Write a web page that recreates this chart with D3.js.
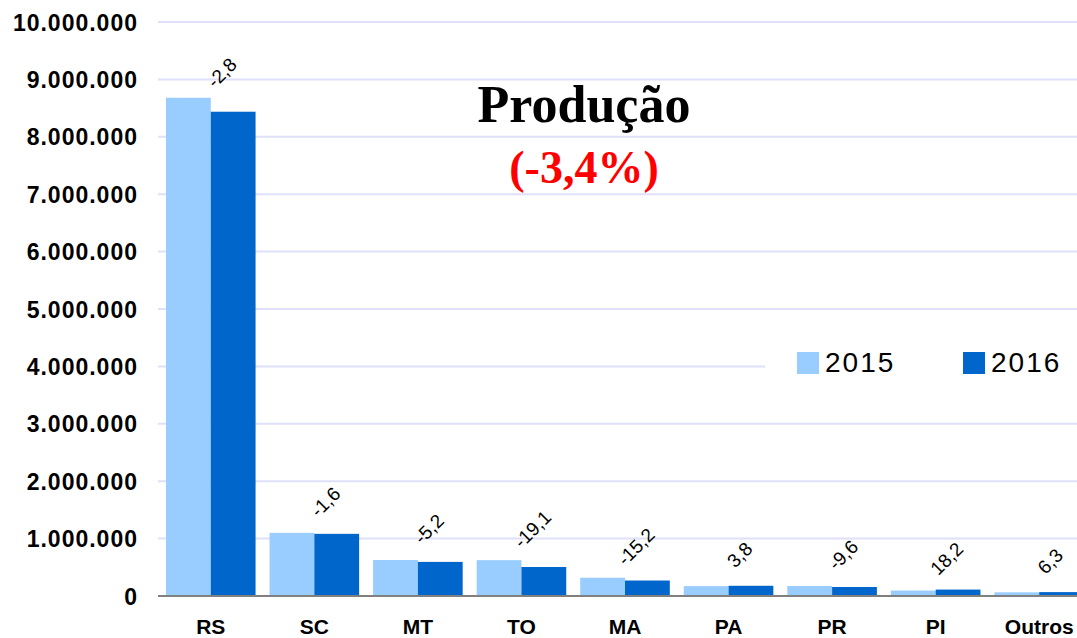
<!DOCTYPE html>
<html><head><meta charset="utf-8">
<script src="https://cdn.jsdelivr.net/npm/d3@7"></script>
<style>body{margin:0;background:#fff}svg{display:block}</style>
</head><body><svg id="c" width="1077" height="638"></svg>
<script>
const categories = ["RS","SC","MT","TO","MA","PA","PR","PI","Outros"];
const values2015 = [8680000,1100000,627000,625000,318000,172000,174000,95000,64000];
const values2016 = [8437000,1083000,594000,505000,270000,178000,157000,112000,68000];
const changes = ["-2,8","-1,6","-5,2","-19,1","-15,2","3,8","-9,6","18,2","6,3"];
const seriesNames = ["2015","2016"];
const yTicks = [0,1000000,2000000,3000000,4000000,5000000,6000000,7000000,8000000,9000000,10000000];
const colors = ["#99ccff","#0066cc"];

(function(){
const svg = d3.select("#c");
const pL = 159, pR = 1091, pT = 22, pB = 596;
const x = d3.scaleBand().domain(categories).range([pL,pR]).paddingInner(0.135).paddingOuter(0.0675);
const xs = d3.scaleBand().domain(seriesNames).range([0,x.bandwidth()]);
const y = d3.scaleLinear().domain([0,10000000]).range([pB,pT]);
const fmt = v => d3.format(",")(v).replace(/,/g,".");

// gridlines
svg.append("g").selectAll("line").data(yTicks.filter(d=>d>0)).join("line")
  .attr("x1",158).attr("x2",1077).attr("y1",d=>y(d)).attr("y2",d=>y(d))
  .attr("stroke","#e0e0fa").attr("stroke-width",2);

// y axis labels
const yAxis = d3.axisLeft(y).tickValues(yTicks).tickFormat(fmt).tickSize(0).tickPadding(0);
const ga = svg.append("g").attr("transform","translate(138,0)").call(yAxis);
ga.select(".domain").remove();
ga.selectAll("text").attr("font-family","Arial, 'Liberation Sans', sans-serif")
  .attr("font-weight","bold").attr("font-size",23).attr("letter-spacing",1).attr("fill","#000").attr("dy","0.35em");

// bars
const data = categories.map((c,i)=>({c, vals:[values2015[i],values2016[i]]}));
const g = svg.append("g");
g.selectAll("g").data(data).join("g").attr("transform",d=>`translate(${x(d.c)},0)`)
  .selectAll("rect").data(d=>d.vals.map((v,j)=>({v,s:seriesNames[j],j}))).join("rect")
  .attr("x",d=>xs(d.s)).attr("width",xs.bandwidth())
  .attr("y",d=>y(d.v)).attr("height",d=>pB-y(d.v)).attr("fill",d=>colors[d.j]);

// x axis line
svg.append("line").attr("x1",158).attr("x2",1077).attr("y1",pB).attr("y2",pB)
  .attr("stroke","#808080").attr("stroke-width",2);

// x labels
const xAxis = d3.axisBottom(x).tickSize(0).tickPadding(0);
const gx = svg.append("g").attr("transform",`translate(0,${pB})`).call(xAxis);
gx.select(".domain").remove();
gx.selectAll("text").attr("font-family","Arial, 'Liberation Sans', sans-serif")
  .attr("font-weight","bold").attr("font-size",21).attr("fill","#000")
  .attr("y",38).attr("dy",0);

// change labels
svg.append("g").selectAll("text").data(data).join("text")
  .attr("transform",(d,i)=>{
    const cx = x(d.c)+x.bandwidth()/2+11;
    const cy = y(Math.max(...d.vals)) - (i===0?25:31);
    return `translate(${cx},${cy}) rotate(-45)`;
  })
  .attr("text-anchor","middle").attr("dy","0.35em")
  .attr("font-family","Arial, 'Liberation Sans', sans-serif").attr("font-size",19).attr("fill","#000")
  .text((d,i)=>changes[i]);

// title
svg.append("text").attr("x",584).attr("y",122).attr("text-anchor","middle")
  .attr("font-family","'Times New Roman','Liberation Serif',serif").attr("font-weight","bold")
  .attr("font-size",52).attr("fill","#000").text("Produção");
svg.append("text").attr("x",584).attr("y",183).attr("text-anchor","middle")
  .attr("font-family","'Times New Roman','Liberation Serif',serif").attr("font-weight","bold")
  .attr("font-size",46).attr("fill","#ff0000").text("(-3,4%)");

// legend
const lg = svg.append("g");
lg.append("rect").attr("x",765).attr("y",342).attr("width",312).attr("height",44).attr("fill","#fff");
const legX = [797,963];
seriesNames.forEach((s,i)=>{
  lg.append("rect").attr("x",legX[i]).attr("y",352).attr("width",22).attr("height",22).attr("fill",colors[i]);
  lg.append("text").attr("x",legX[i]+28).attr("y",372).attr("font-family","Arial, 'Liberation Sans', sans-serif")
    .attr("font-size",28).attr("letter-spacing",2).attr("fill","#000").text(s);
});
})();
</script></body></html>
